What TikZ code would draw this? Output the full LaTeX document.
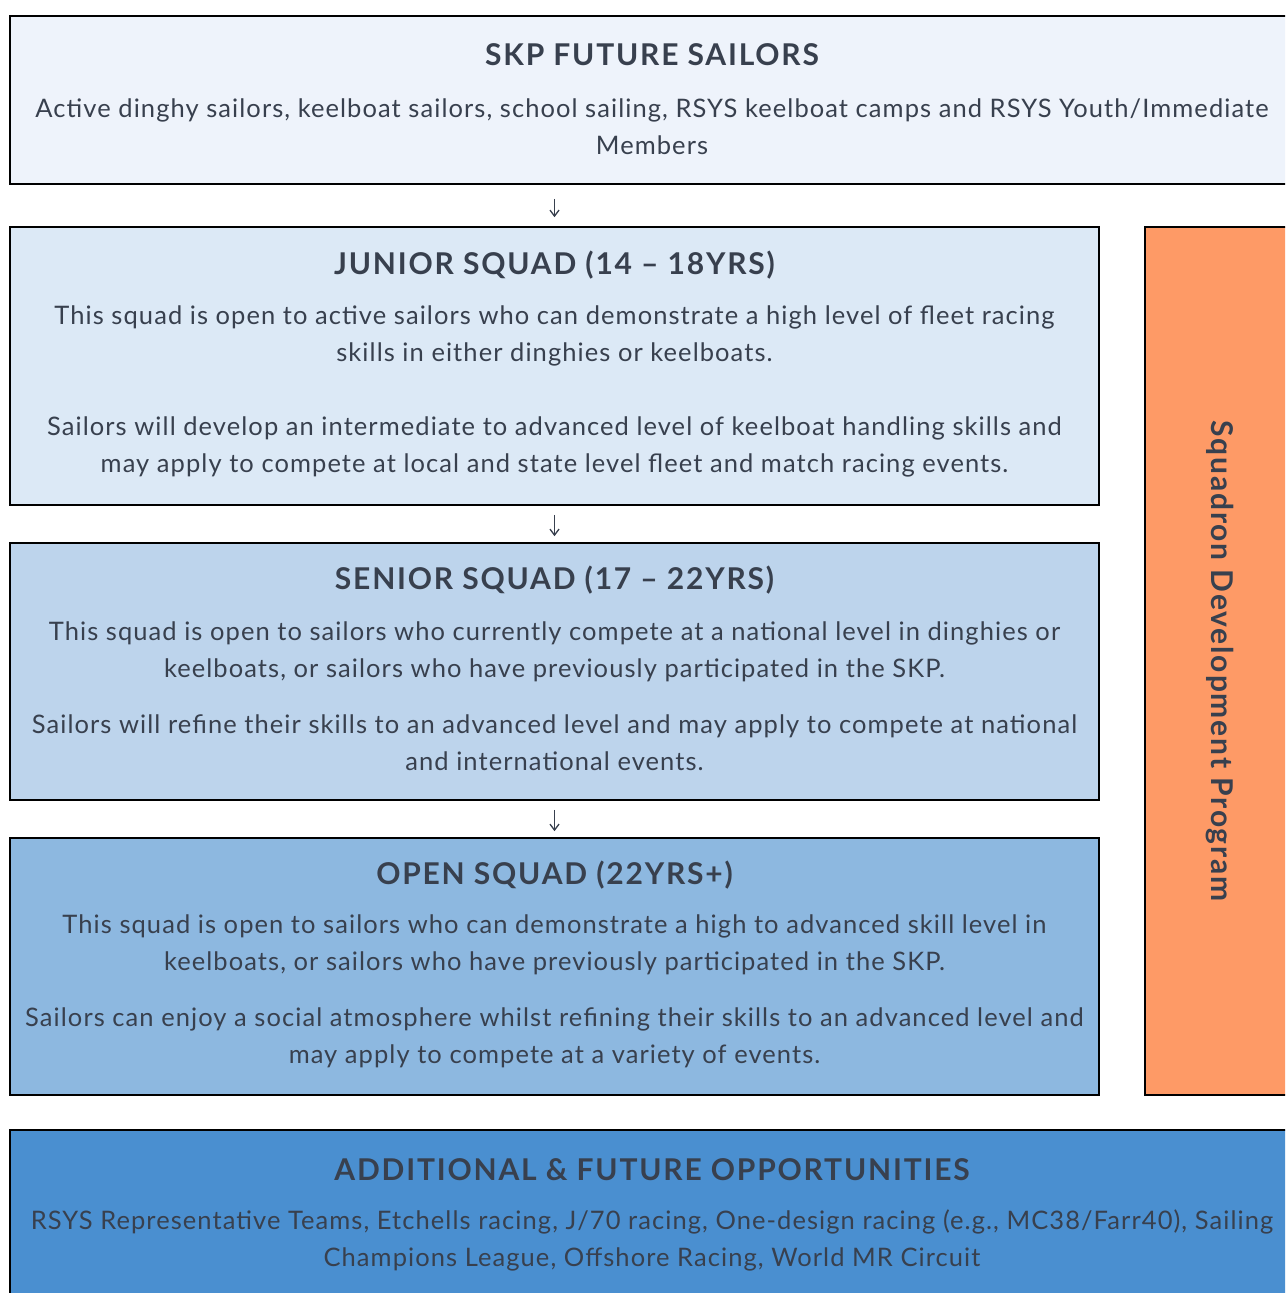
\documentclass[tikz,border=0pt]{standalone}
\usepackage{fontspec}
\setmainfont{Lato}
\usetikzlibrary{arrows.meta}
\definecolor{futurefill}{HTML}{EEF3FB}
\definecolor{juniorfill}{HTML}{DCE9F6}
\definecolor{seniorfill}{HTML}{BDD4EC}
\definecolor{openfill}{HTML}{8DB8E0}
\definecolor{sdpfill}{HTML}{FE9A66}
\definecolor{extrafill}{HTML}{4A8FD0}
\definecolor{ink}{HTML}{38404E}
\tikzset{
  box/.style={draw=black, line width=1.6pt, rectangle, inner sep=0pt},
  ttl/.style={text=ink, font=\fontsize{30}{36}\selectfont\bfseries\addfontfeatures{LetterSpace=6}},
  body/.style={text=ink, align=center, font=\fontsize{25.5}{37}\selectfont\addfontfeatures{LetterSpace=4.2}},
  flow/.style={draw=ink, line width=1.3pt, -{Straight Barb[length=6pt,width=9pt]}}
}

\begin{document}
\begin{tikzpicture}[x=1pt,y=-1pt]
    \useasboundingbox (0,0) rectangle (1285,1293);
    \clip (0,0) rectangle (1285,1293);
    \fill[white] (0,0) rectangle (1285,1293);
    % squad boxes
    \node[box, fill=futurefill, minimum width=1285pt, minimum height=168pt] (future) at (652.5,100) {};
    \node[box, fill=juniorfill, minimum width=1089pt, minimum height=278pt] (junior) at (554.5,366) {};
    \node[box, fill=seniorfill, minimum width=1089pt, minimum height=257pt] (senior) at (554.5,671.5) {};
    \node[box, fill=openfill, minimum width=1089pt, minimum height=257pt] (open) at (554.5,966.5) {};
    \node[box, fill=sdpfill, minimum width=150pt, minimum height=868pt] (sdp) at (1220,661) {};
    \node[box, fill=extrafill, minimum width=1285pt, minimum height=164pt] (extra) at (652.5,1212) {};
    %texts
    \node[ttl] (futuret) at (652,55) {SKP FUTURE SAILORS};
    \node[body] (futureb) at (652,126.5) {Active dinghy sailors, keelboat sailors, school sailing, RSYS keelboat camps and RSYS Youth/Immediate\\Members};
    \node[ttl] (juniort) at (554.5,265) {JUNIOR SQUAD (14 – 18YRS)};
    \node[body] (juniorb) at (554.5,391.5) {This squad is open to active sailors who can demonstrate a high level of fleet racing\\skills in either dinghies or keelboats.\\[37pt]Sailors will develop an intermediate to advanced level of keelboat handling skills and\\may apply to compete at local and state level fleet and match racing events.};
    \node[ttl] (seniort) at (554.5,580) {SENIOR SQUAD (17 – 22YRS)};
    \node[body] (seniorb) at (554.5,696) {This squad is open to sailors who currently compete at a national level in dinghies or\\keelboats, or sailors who have previously participated in the SKP.\\[19pt]Sailors will refine their skills to an advanced level and may apply to compete at national\\and international events.};
    \node[ttl] (opent) at (554.5,875) {OPEN SQUAD (22YRS+)};
    \node[body] (openb) at (554.5,991) {This squad is open to sailors who can demonstrate a high to advanced skill level in\\keelboats, or sailors who have previously participated in the SKP.\\[19pt]Sailors can enjoy a social atmosphere whilst refining their skills to an advanced level and\\may apply to compete at a variety of events.};
    \node[ttl, rotate=-90] (sdpt) at (1220,661) {Squadron Development Program};
    \node[ttl] (extrat) at (652,1170) {ADDITIONAL \& FUTURE OPPORTUNITIES};
    \node[body] (extrab) at (652,1240.5) {RSYS Representative Teams, Etchells racing, J/70 racing, One-design racing (e.g., MC38/Farr40), Sailing\\Champions League, Offshore Racing, World MR Circuit};
    % arrows
    \draw[flow, shorten <=14pt, shorten >=9pt] (future.south -| junior.north) -- (junior.north);
    \draw[flow, shorten <=9pt, shorten >=6pt] (junior.south) -- (senior.north);
    \draw[flow, shorten <=9pt, shorten >=6pt] (senior.south) -- (open.north);
\end{tikzpicture}
\end{document}
